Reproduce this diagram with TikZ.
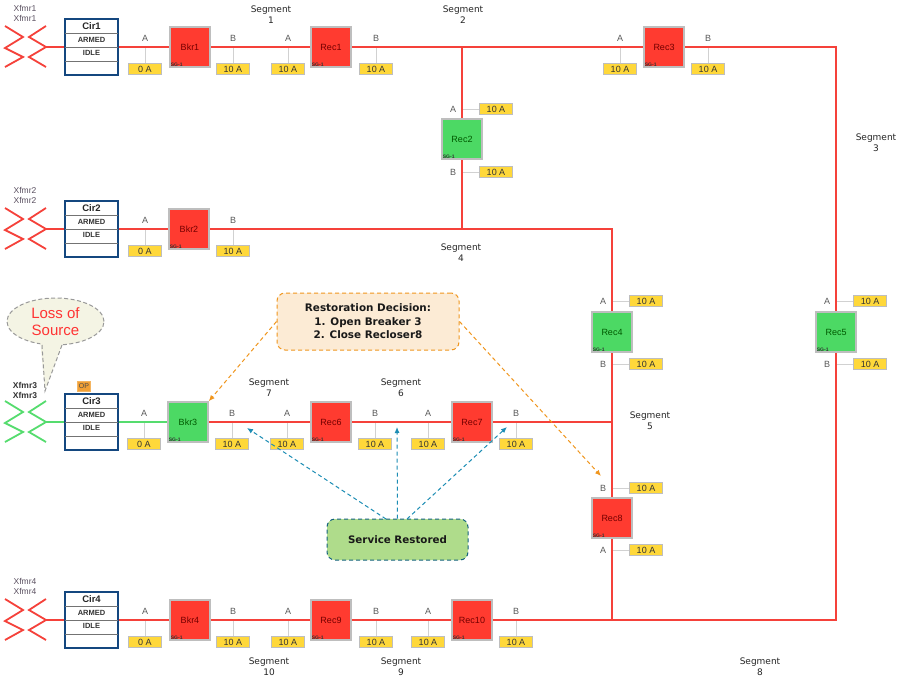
\documentclass[tikz,border=0pt]{standalone}
\usepackage{fontspec}
\setmainfont{DejaVu Sans}
\newfontfamily\lib{Liberation Sans}
\usetikzlibrary{shapes.geometric,backgrounds,arrows.meta}
\definecolor{swred}{HTML}{FF3B30}
\definecolor{swgreen}{HTML}{4CD964}
\definecolor{linered}{HTML}{F5413A}
\definecolor{linegreen}{HTML}{55DC6E}
\definecolor{boxedge}{HTML}{BEBEBE}
\definecolor{tagfill}{HTML}{FFD83A}
\definecolor{cirblue}{HTML}{14477F}
\definecolor{orangeln}{HTML}{F0961E}
\definecolor{blueln}{HTML}{1C8DB4}
\definecolor{decfill}{HTML}{FCEBD5}
\definecolor{srvfill}{HTML}{AFDC8B}
\definecolor{lossfill}{HTML}{F4F4E4}
\definecolor{xfgray}{HTML}{5A5060}
\tikzset{
  swbase/.style={draw=boxedge,line width=1.6pt,minimum size=40pt,inner sep=0pt,font=\lib\fontsize{9}{9}\selectfont},
  swr/.style={swbase,fill=swred,text=red!45!black},
  swg/.style={swbase,fill=swgreen,text=green!35!black},
  sgtext/.style={inner sep=1.5pt,font=\lib\bfseries\fontsize{5}{5}\selectfont,text=black!80},
  tagbox/.style={draw=boxedge,line width=1.2pt,fill=tagfill,minimum width=33pt,minimum height=11pt,inner sep=0pt,font=\lib\fontsize{9}{9}\selectfont,text=black!80},
  letter/.style={inner sep=0pt,font=\lib\fontsize{9}{9}\selectfont,text=black!65},
  stem/.style={draw=black!18,line width=1pt},
  redline/.style={draw=linered,line width=2.2pt},
  greenline/.style={draw=linegreen,line width=2.2pt},
  segtext/.style={inner sep=0pt,align=center,font=\fontsize{9}{11}\selectfont,text=black!85},
  xftext/.style={inner sep=0pt,align=center,font=\lib\fontsize{8.5}{10}\selectfont,text=xfgray},
  cirbox/.style={draw=cirblue,line width=1.6pt,fill=white,minimum width=53pt,minimum height=56pt,inner sep=0pt},
  cirrule/.style={draw=black!55,line width=0.8pt},
  cirname/.style={inner sep=0pt,font=\lib\bfseries\fontsize{9.5}{9.5}\selectfont,text=black!85},
  cirstate/.style={inner sep=0pt,font=\lib\bfseries\fontsize{7.5}{7.5}\selectfont,text=black!80},
  orangearrow/.style={draw=orangeln,line width=1pt,dash pattern=on 4pt off 3pt,-{Latex[length=6pt,width=5pt]}},
  bluearrow/.style={draw=blueln,line width=1pt,dash pattern=on 4pt off 3pt,-{Latex[length=6pt,width=5pt]}},
}
\newcommand{\Sw}[5]{% name x y style text
  \node[#4] (#1) at (#2,#3) {#5};
  \node[sgtext,anchor=south west] (#1sg) at (#1.south west) {SG-1};
}
\newcommand{\Ht}[5]{% name letter x liney tagtext (tag below)
  \coordinate (#1c) at (#3,#4);
  \node[tagbox] (#1t) at (#3,#4+22) {#5};
  \node[letter] (#1l) at (#3,#4-8.5) {#2};
  \begin{scope}[on background layer]\draw[stem] (#1c) -- (#1t);\end{scope}
}
\newcommand{\Vt}[4]{% name letter linex y (tag to the right)
  \coordinate (#1c) at (#3,#4);
  \node[tagbox] (#1t) at (#3+34,#4) {10 A};
  \node[letter] (#1l) at (#3-9,#4) {#2};
  \begin{scope}[on background layer]\draw[stem] (#1c) -- (#1t);\end{scope}
}
\newcommand{\Cir}[3]{% number y-line colour of xfmr
  \node[cirbox] (cir#1) at (91.5,#2) {};
  \draw[cirrule] (65,#2-14) -- (118,#2-14);
  \draw[cirrule] (65,#2) -- (118,#2);
  \draw[cirrule] (65,#2+14) -- (118,#2+14);
  \node[cirname] (cirn#1) at (91.5,#2-21) {Cir#1};
  \node[cirstate] (cira#1) at (91.5,#2-7.5) {ARMED};
  \node[cirstate] (ciri#1) at (91.5,#2+6) {IDLE};
  \draw[draw=#3,line width=1.8pt] (5,#2-21) -- (23,#2-10) -- (5,#2+1) -- (23,#2+10) -- (5,#2+20);
  \draw[draw=#3,line width=1.8pt] (46,#2-21) -- (29,#2-10) -- (46,#2) -- (29,#2+10) -- (46,#2+20);
  \coordinate (xf#1) at (46,#2);
}
\begin{document}
\begin{tikzpicture}[x=1pt,y=-1pt]
\useasboundingbox (0,0) rectangle (900,680);
\begin{scope}[on background layer]
\fill[white] (0,0) rectangle (900,680);
\end{scope}

\Cir{1}{47}{linered}
\Cir{2}{229}{linered}
\Cir{3}{422}{linegreen}
\Cir{4}{620}{linered}

\node[xftext] (xl1) at (25,13) {Xfmr1\\Xfmr1};
\node[xftext] (xl2) at (25,195) {Xfmr2\\Xfmr2};
\node[inner sep=0pt,align=center,font=\lib\bfseries\fontsize{8.5}{10}\selectfont,text=black!80] (xl3) at (25,390) {Xfmr3\\Xfmr3};
\node[xftext] (xl4) at (25,586) {Xfmr4\\Xfmr4};

\node[draw=orangeln!70,fill=orangeln!90,minimum width=13pt,minimum height=10pt,inner sep=0pt,font=\lib\fontsize{7}{7}\selectfont,text=black!70] (op) at (84,386) {OP};

\Sw{bkr1}{190}{47}{swr}{Bkr1}
\Sw{rec1}{331}{47}{swr}{Rec1}
\Sw{rec3}{664}{47}{swr}{Rec3}
\Sw{rec2}{462}{139}{swg}{Rec2}
\Sw{bkr2}{189}{229}{swr}{Bkr2}
\Sw{rec4}{612}{332}{swg}{Rec4}
\Sw{rec5}{836}{332}{swg}{Rec5}
\Sw{bkr3}{188}{422}{swg}{Bkr3}
\Sw{rec6}{331}{422}{swr}{Rec6}
\Sw{rec7}{472}{422}{swr}{Rec7}
\Sw{rec8}{612}{518}{swr}{Rec8}
\Sw{bkr4}{190}{620}{swr}{Bkr4}
\Sw{rec9}{331}{620}{swr}{Rec9}
\Sw{rec10}{472}{620}{swr}{Rec10}

\coordinate (topj) at (462,47);
\coordinate (topr) at (836,47);
\coordinate (midj) at (462,229);
\coordinate (midr) at (612,229);
\coordinate (r3j) at (612,422);
\coordinate (botj) at (612,620);
\coordinate (botr) at (836,620);

\Ht{a1}{A}{145}{47}{0 A}
\Ht{b1}{B}{233}{47}{10 A}
\Ht{a2}{A}{288}{47}{10 A}
\Ht{b2}{B}{376}{47}{10 A}
\Ht{a3}{A}{620}{47}{10 A}
\Ht{b3}{B}{708}{47}{10 A}
\Ht{a4}{A}{145}{229}{0 A}
\Ht{b4}{B}{233}{229}{10 A}
\Ht{a5}{A}{144}{422}{0 A}
\Ht{b5}{B}{232}{422}{10 A}
\Ht{a6}{A}{287}{422}{10 A}
\Ht{b6}{B}{375}{422}{10 A}
\Ht{a7}{A}{428}{422}{10 A}
\Ht{b7}{B}{516}{422}{10 A}
\Ht{a8}{A}{145}{620}{0 A}
\Ht{b8}{B}{233}{620}{10 A}
\Ht{a9}{A}{288}{620}{10 A}
\Ht{b9}{B}{376}{620}{10 A}
\Ht{a10}{A}{428}{620}{10 A}
\Ht{b10}{B}{516}{620}{10 A}

\Vt{va2}{A}{462}{109}
\Vt{vb2}{B}{462}{172}
\Vt{va4}{A}{612}{301}
\Vt{vb4}{B}{612}{364}
\Vt{va5}{A}{836}{301}
\Vt{vb5}{B}{836}{364}
\Vt{vb8}{B}{612}{488}
\Vt{va8}{A}{612}{550}

\begin{scope}[on background layer]
\draw[redline] (xf1) -- (cir1);
\draw[redline] (cir1) -- (bkr1) -- (rec1) -- (topj) -- (rec3) -- (topr) -- (rec5) -- (botr) -- (botj) -- (rec10) -- (rec9) -- (bkr4) -- (cir4) -- (xf4);
\draw[redline] (topj) -- (rec2) -- (midj);
\draw[redline] (xf2) -- (cir2) -- (bkr2) -- (midj) -- (midr) -- (rec4) -- (r3j) -- (rec8) -- (botj);
\draw[greenline] (xf3) -- (cir3) -- (bkr3);
\draw[redline] (bkr3) -- (rec6) -- (rec7) -- (r3j);
\end{scope}

\node[segtext] (s1) at (271,14.5) {Segment\\1};
\node[segtext] (s2) at (463,14.5) {Segment\\2};
\node[segtext] (s3) at (876,142.5) {Segment\\3};
\node[segtext] (s4) at (461,252.5) {Segment\\4};
\node[segtext] (s5) at (650,420.5) {Segment\\5};
\node[segtext] (s6) at (401,387.5) {Segment\\6};
\node[segtext] (s7) at (269,387.5) {Segment\\7};
\node[segtext] (s8) at (760,666.5) {Segment\\8};
\node[segtext] (s9) at (401,666.5) {Segment\\9};
\node[segtext] (s10) at (269,666.5) {Segment\\10};

% callout
\node[ellipse,draw=black!40,line width=1pt,dash pattern=on 4pt off 2.5pt,fill=lossfill,minimum width=97pt,minimum height=47pt,inner sep=0pt,align=center,text=red!80!white,font=\lib\fontsize{15}{17}\selectfont] (loss) at (55.5,321.5) {Loss of\\Source};
\fill[lossfill] (40,340) -- (45,390) -- (64,340) -- cycle;
\coordinate (tip) at (45,391);
\coordinate (pl) at (42,345);
\coordinate (pr) at (62,345);
\draw[draw=black!40,line width=1pt,dash pattern=on 4pt off 2.5pt] (pl) -- (tip) -- (pr);

% decision boxes
\node[draw=orangeln,line width=1pt,dash pattern=on 4pt off 3pt,rounded corners=8pt,fill=decfill,minimum width=182pt,minimum height=57pt,inner sep=0pt,align=center,font=\bfseries\fontsize{10.4}{13.5}\selectfont,text=black!90] (dec) at (368,321.5) {Restoration Decision:\\1. Open Breaker 3\\2. Close Recloser8};
\node[draw=blueln!70!black,line width=1pt,dash pattern=on 4pt off 3pt,rounded corners=8pt,fill=srvfill,minimum width=141pt,minimum height=41pt,inner sep=0pt,font=\bfseries\fontsize{10.3}{12}\selectfont,text=black!90] (srv) at (397.5,539.5) {Service Restored};

\coordinate (oe) at (601,476);
\coordinate (be1) at (247,428);
\coordinate (be2) at (397,427);
\coordinate (be3) at (507,427);
\coordinate (bs1) at (386,519);
\coordinate (bs3) at (407,519);
\draw[orangearrow] (dec.west) -- (bkr3.north east);
\draw[orangearrow] (dec.east) -- (oe);
\draw[bluearrow] (bs1) -- (be1);
\draw[bluearrow] (srv.north) -- (be2);
\draw[bluearrow] (bs3) -- (be3);
\end{tikzpicture}
\end{document}
